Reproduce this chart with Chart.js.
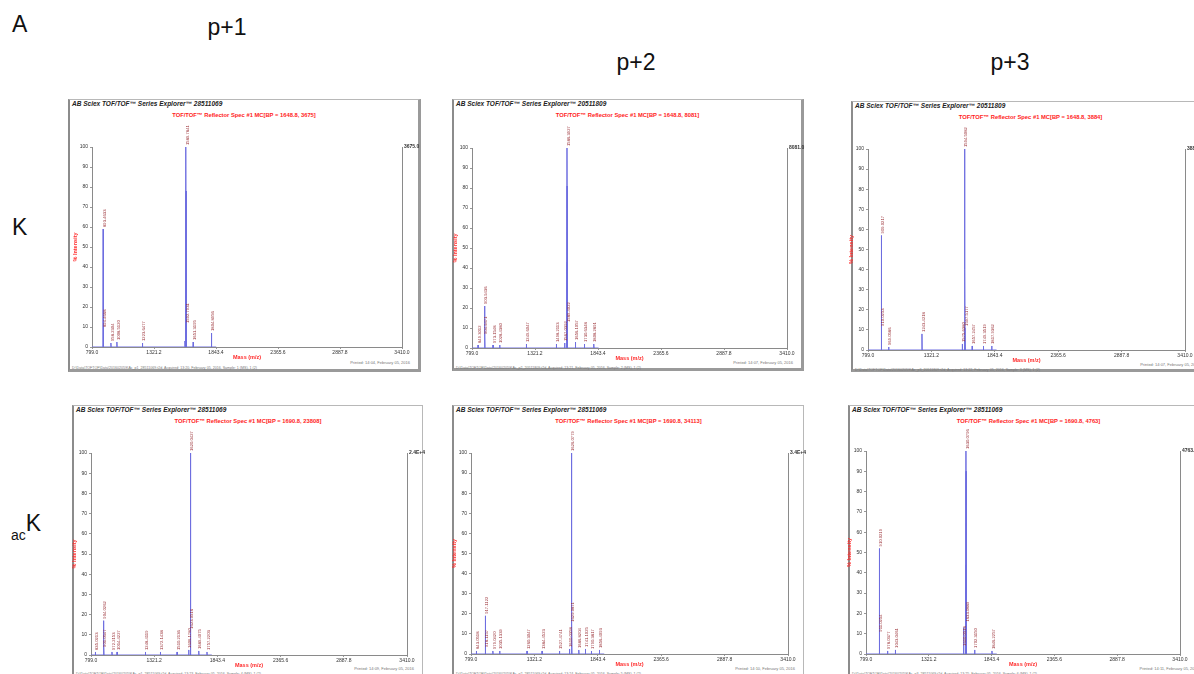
<!DOCTYPE html>
<html>
<head>
<meta charset="utf-8">
<title>MALDI TOF/TOF spectra</title>
<script src="https://cdn.jsdelivr.net/npm/chart.js@4.4.1/dist/chart.umd.min.js"></script>
<style>
  html, body { margin: 0; padding: 0; background: #fff; }
  body { width: 1194px; height: 674px; overflow: hidden; position: relative; font-family: "Liberation Sans", Arial, sans-serif; }
  .lbl { position: absolute; font-size: 23px; line-height: 1; color: #111; white-space: nowrap; }
  .ctr { transform: translateX(-50%); }
  .panel { position: absolute; box-sizing: border-box; background: #fff; }
  .hdr { position: absolute; left: 2px; top: 0px; font: italic bold 6.5px "Liberation Sans", Arial; color: #222; white-space: nowrap; }
  .sub { position: absolute; left: 0; right: 0; top: 12px; text-align: center; font: bold 5.8px "Liberation Sans", Arial; color: #f22; white-space: nowrap; }
  .fl { position: absolute; left: 2px; top: 266px; font: 3.6px "Liberation Sans", Arial; color: #777; white-space: nowrap; }
  .fr { position: absolute; right: 8px; top: 260px; font: 4px "Liberation Sans", Arial; color: #777; white-space: nowrap; }
  canvas { position: absolute; }
</style>
</head>
<body>
<div class="lbl" style="left:12px;top:13px">A</div>
<div class="lbl ctr" style="left:227px;top:16px">p+1</div>
<div class="lbl ctr" style="left:636px;top:51px">p+2</div>
<div class="lbl ctr" style="left:1010px;top:51px">p+3</div>
<div class="lbl" style="left:12px;top:216px">K</div>
<div class="lbl" style="left:11px;top:512px"><span style="font-size:14px;position:relative;top:9px">ac</span>K</div>

<script>
// ---- data ----
const X_MIN = 799.0, X_MAX = 3410.0;
const xTicks = [799.0, 1321.2, 1843.4, 2365.6, 2887.8, 3410.0];
const yTicks = [0, 10, 20, 30, 40, 50, 60, 70, 80, 90, 100];

// panel order: K p+1, K p+2, K p+3, acK p+1, acK p+2, acK p+3
const runIds   = ['28511069', '20511809', '20511809', '28511069', '28511069', '28511069'];
const bpMass   = ['1648.8', '1648.8', '1648.8', '1690.8', '1690.8', '1690.8'];
const bpCounts = ['3675', '8081', '3884', '23808', '34113', '4763'];
const absMax   = ['3675.0', '8081.0', '3884.0', '2.4E+4', '3.4E+4', '4763.0'];
const printed  = ['14:04', '14:07', '14:07', '14:09', '14:10', '14:11'];

const masses1 = [893.4633, 894.4668, 958.2304, 1008.5120, 1223.6477, 1581.6410, 1589.7841, 1590.7870, 1591.7902, 1592.7931, 1651.3195, 1804.8956];
const ints1   = [59, 9, 2, 2.5, 2, 3, 100, 78, 37, 11, 2.5, 7];
const labs1   = [1, 1, 1, 1, 1, 0, 1, 0, 0, 1, 1, 1];

const masses2 = [849.3012, 903.9436, 904.9471, 973.1548, 1028.4380, 1249.6047, 1498.2113, 1567.0392, 1586.3927, 1587.3960, 1588.3991, 1589.4022, 1656.1057, 1730.6348, 1808.2891];
const ints2   = [1.5, 21, 6, 1.5, 1.5, 2, 2, 2.5, 100, 81, 43, 12, 3, 2, 2];
const labs2   = [1, 1, 1, 1, 1, 1, 1, 1, 1, 0, 0, 1, 1, 1, 1];

const masses3 = [909.0217, 910.0253, 969.0586, 1243.4218, 1575.6380, 1594.5082, 1595.5114, 1596.5143, 1597.5177, 1657.2457, 1749.3519, 1817.9362];
const ints3   = [57, 11, 1.5, 8, 3, 100, 80, 40, 11, 2, 2, 2];
const labs3   = [1, 1, 1, 1, 1, 1, 0, 0, 1, 1, 1, 1];

const masses4 = [835.0213, 901.0547, 904.0262, 905.0298, 972.2153, 1014.4227, 1248.4119, 1372.1438, 1510.2136, 1606.1780, 1620.0427, 1621.0459, 1622.0488, 1623.0516, 1689.4075, 1757.2203];
const ints4   = [1.5, 3, 17, 5, 1.5, 1.5, 1.5, 1.5, 1.5, 2.5, 100, 83, 40, 12, 2, 1.5];
const labs4   = [1, 1, 1, 0, 1, 1, 1, 1, 1, 1, 1, 0, 0, 1, 1, 1];

const masses5 = [843.0518, 917.1122, 918.1157, 979.0420, 1035.1339, 1260.3047, 1384.4523, 1527.4741, 1610.0358, 1626.0779, 1627.0811, 1628.0842, 1629.0871, 1686.8204, 1741.1025, 1790.3817, 1856.4093];
const ints5   = [1.5, 19, 2.5, 1.5, 1.5, 1.5, 1.5, 1.5, 2.5, 100, 90, 45, 15, 2, 2.5, 1.5, 2];
const labs5   = [1, 1, 1, 1, 1, 1, 1, 1, 1, 1, 0, 0, 1, 1, 1, 1, 1];

const masses6 = [910.0219, 911.0254, 978.0377, 1043.0461, 1610.0518, 1611.5623, 1630.0796, 1631.0828, 1632.0860, 1633.0889, 1702.3150, 1846.2257];
const ints6   = [52, 10, 1.5, 2, 3, 13, 100, 90, 44, 15, 2, 1.5];
const labs6   = [1, 1, 1, 1, 1, 0, 1, 0, 0, 1, 1, 1];

const allMasses = [masses1, masses2, masses3, masses4, masses5, masses6];
const allInts   = [ints1, ints2, ints3, ints4, ints5, ints6];
const allLabs   = [labs1, labs2, labs3, labs4, labs5, labs6];

// ---- layout (page pixels) ----
// frame: [left, top, width, height]; plot area: [left, top, right, bottom]
const frames = [[68, 99, 353, 273], [452, 99, 352, 272], [851, 101, 360, 271],
                [72, 405, 351, 280], [452, 405, 352, 280], [848, 405, 360, 280]];
const plots  = [[92, 147, 402, 347], [472, 148, 787, 348], [868, 149, 1185, 350],
                [91, 453, 407, 655], [471, 453, 788, 654], [866, 451, 1180, 654]];

const PAD_L = 26, PAD_R = 24, PAD_T = 26, PAD_B = 18;
const FONT = '"Liberation Sans", Arial, sans-serif';
Chart.defaults.font.family = FONT;

function spectrumPoints(m, v) {
  // each peak drawn as a thin stick rising from the baseline
  const pts = [{ x: X_MIN, y: 0 }];
  for (let i = 0; i < m.length; i++) {
    pts.push({ x: m[i] - 2, y: 0 }, { x: m[i], y: v[i] }, { x: m[i] + 2, y: 0 });
  }
  pts.push({ x: m[m.length - 1] + 40, y: 0 });
  return pts;
}

function peakLabels(m, v, lab) {
  return {
    id: 'peakLabels',
    afterDatasetsDraw(chart) {
      const { ctx, scales: { x, y } } = chart;
      ctx.save();
      ctx.font = '4.2px ' + FONT;
      ctx.fillStyle = '#9a2f35';
      ctx.textAlign = 'left';
      ctx.textBaseline = 'middle';
      for (let i = 0; i < m.length; i++) {
        if (!lab[i]) continue;
        const px = x.getPixelForValue(m[i]) + 1.5;
        const py = y.getPixelForValue(v[i]) - 2;
        ctx.save();
        ctx.translate(px, py);
        ctx.rotate(-Math.PI / 2);
        ctx.fillText(m[i].toFixed(4), 0, 0);
        ctx.restore();
      }
      ctx.restore();
    }
  };
}

const tickFont = { size: 5, family: FONT };
const redTitle = { size: 5.5, weight: 'bold', family: FONT };

for (let p = 0; p < 6; p++) {
  const [fl, ft, fw, fh] = frames[p];
  const panel = document.createElement('div');
  panel.className = 'panel';
  panel.style.left = fl + 'px';
  panel.style.top = ft + 'px';
  panel.style.width = fw + 'px';
  panel.style.height = fh + 'px';
  if (p < 3) {
    panel.style.borderLeft = '2px solid #8c8c8c';
    panel.style.borderTop = '1px solid #b8b8b8';
    panel.style.borderRight = '3px solid #9a9a9a';
    panel.style.borderBottom = '3px solid #9a9a9a';
  } else {
    panel.style.borderLeft = '2px solid #8c8c8c';
    panel.style.borderTop = '1px solid #b8b8b8';
    panel.style.borderRight = '1px solid #b8b8b8';
  }
  panel.innerHTML =
    '<div class="hdr">AB Sciex TOF/TOF\u2122 Series Explorer\u2122 ' + runIds[p] + '</div>' +
    '<div class="sub">TOF/TOF\u2122 Reflector Spec #1 MC[BP = ' + bpMass[p] + ', ' + bpCounts[p] + ']</div>' +
    '<div class="fr">Printed: ' + printed[p] + ', February 05, 2016</div>' +
    '<div class="fl">D:\\Data\\TOFTOF\\Data\\20160205\\KAc_p' + (p % 3 + 1) + '_' + runIds[p] + '.t2d, Acquired: 13:2' + p + ', February 05, 2016, Sample: ' + (p + 1) + ' (MS), 1 (2)</div>';
  document.body.appendChild(panel);

  const [pl, pt, pr, pb] = plots[p];
  const cv = document.createElement('canvas');
  const cw = pr - pl + PAD_L + PAD_R, ch = pb - pt + PAD_T + PAD_B;
  cv.width = cw; cv.height = ch;
  cv.style.left = (pl - PAD_L) + 'px';
  cv.style.top = (pt - PAD_T) + 'px';
  cv.style.width = cw + 'px';
  cv.style.height = ch + 'px';
  document.body.appendChild(cv);

  const m = allMasses[p], v = allInts[p], lab = allLabs[p];
  const absLabel = absMax[p];

  new Chart(cv, {
    type: 'line',
    data: {
      datasets: [{
        data: spectrumPoints(m, v),
        borderColor: '#6e6ee0',
        borderWidth: 1,
        pointRadius: 0,
        tension: 0,
        fill: false
      }]
    },
    options: {
      responsive: false,
      animation: false,
      layout: { padding: { top: PAD_T, left: 0, right: 0, bottom: 0 } },
      plugins: { legend: { display: false }, tooltip: { enabled: false } },
      scales: {
        x: {
          type: 'linear', min: X_MIN, max: X_MAX,
          afterBuildTicks: s => { s.ticks = xTicks.map(t => ({ value: t })); },
          afterFit: s => { s.height = PAD_B; },
          ticks: { font: tickFont, color: '#333', padding: 1, autoSkip: false, maxRotation: 0,
                   callback: t => Number(t).toFixed(1) },
          grid: { drawOnChartArea: false, tickLength: 2, color: '#999' },
          border: { color: '#8a8a8a' },
          title: { display: true, text: 'Mass (m/z)', color: '#ff2a2a', font: redTitle, padding: { top: 0, bottom: 4 } }
        },
        y: {
          min: 0, max: 100,
          afterBuildTicks: s => { s.ticks = yTicks.map(t => ({ value: t })); },
          afterFit: s => { s.width = PAD_L; },
          ticks: { font: tickFont, color: '#333', padding: 2, autoSkip: false },
          grid: { drawOnChartArea: false, tickLength: 2, color: '#999' },
          border: { color: '#8a8a8a' },
          title: { display: true, text: '% Intensity', color: '#ff2a2a', font: redTitle, padding: { top: 6, bottom: 0 } }
        },
        y2: {
          position: 'right', min: 0, max: 1,
          afterBuildTicks: s => { s.ticks = [{ value: 1 }]; },
          afterFit: s => { s.width = PAD_R; },
          ticks: { font: { size: 5, weight: 'bold', family: FONT }, color: '#333', padding: 2,
                   callback: () => absLabel },
          grid: { drawOnChartArea: false, tickLength: 0 },
          border: { color: '#8a8a8a' }
        }
      }
    },
    plugins: [peakLabels(m, v, lab)]
  });
}
</script>
</body>
</html>
